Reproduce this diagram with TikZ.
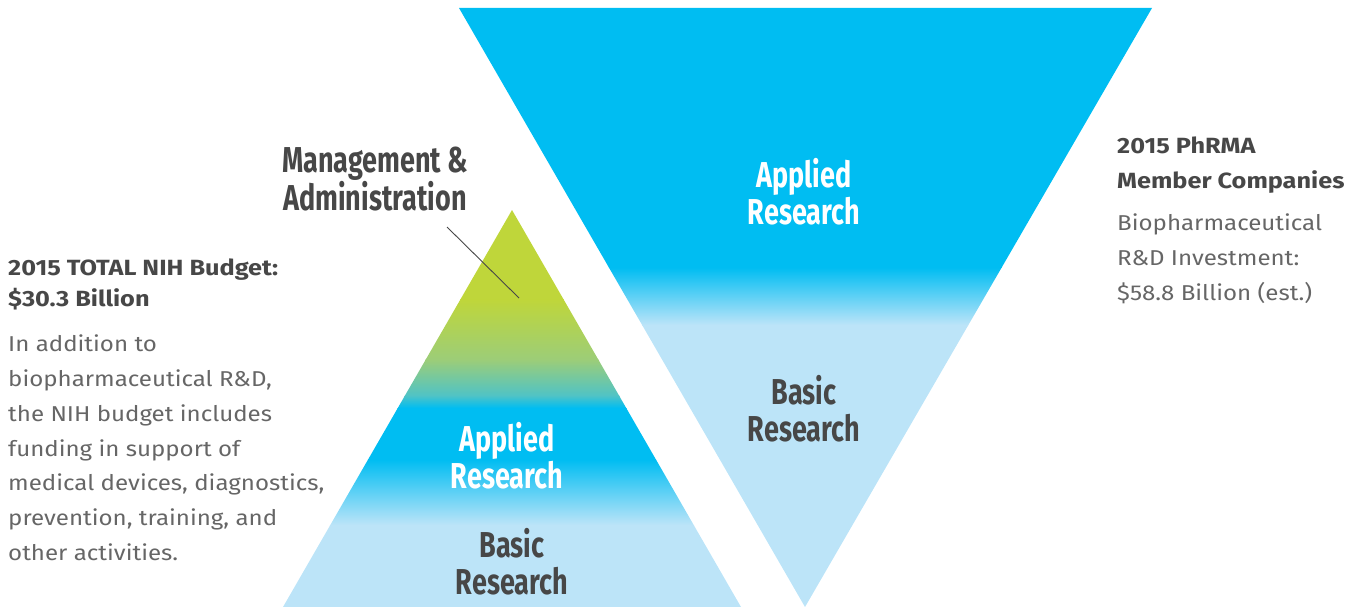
\documentclass[tikz,border=0pt]{standalone}
\usepackage{fontspec}
\setmainfont{Fira Sans}
\newfontfamily\condbold[FakeStretch=0.75]{Fira Sans}
\newfontfamily\headfont[FakeStretch=1.15]{Fira Sans}
\newfontfamily\lightfont[FakeStretch=1.12]{Fira Sans}
\definecolor{cyanb}{HTML}{00BDF2}
\definecolor{lightb}{HTML}{BCE4F8}
\definecolor{greenm}{HTML}{BFD63A}
\definecolor{midg}{HTML}{9CCD78}
\definecolor{tealc}{HTML}{4FC3C6}
\definecolor{darkt}{HTML}{474747}
\definecolor{bodyt}{HTML}{666666}
\begin{document}
\begin{tikzpicture}[x=1pt,y=-1pt,
  biglab/.style={align=center,inner sep=0pt,font=\condbold\bfseries\fontsize{36}{37}\selectfont},
  headtxt/.style={anchor=north west,align=left,inner sep=0pt,text=darkt,font=\headfont\bfseries\fontsize{22}{31}\selectfont},
  bodytxt/.style={anchor=north west,align=left,inner sep=0pt,text=bodyt,font=\lightfont\fontsize{21.5}{34.7}\selectfont},
  leader/.style={draw=darkt,line width=0.9pt}]
\useasboundingbox (0,0) rectangle (1356,607);
% inverted triangle (PhRMA)
\coordinate (RTL) at (459,8);
\coordinate (RTR) at (1152,8);
\coordinate (RB) at (805,607);
\begin{scope}
\clip (RTL) -- (RTR) -- (RB) -- cycle;
\fill[cyanb] (450,0) rectangle (1160,268);
\shade[top color=cyanb,bottom color=lightb] (450,267.5) rectangle (1160,325);
\fill[lightb] (450,324.5) rectangle (1160,610);
\end{scope}
% upright triangle (NIH)
\coordinate (LT) at (512,210);
\coordinate (LBR) at (741,607);
\coordinate (LBL) at (283,607);
\begin{scope}
\clip (LT) -- (LBR) -- (LBL) -- cycle;
\fill[greenm] (280,205) rectangle (745,300);
\shade[top color=greenm,bottom color=midg] (280,299.5) rectangle (745,360);
\shade[top color=midg,bottom color=tealc] (280,359.5) rectangle (745,396);
\shade[top color=tealc,bottom color=cyanb] (280,395.5) rectangle (745,408);
\fill[cyanb] (280,407.5) rectangle (745,460);
\shade[top color=cyanb,bottom color=lightb] (280,459.5) rectangle (745,525);
\fill[lightb] (280,524.5) rectangle (745,610);
\end{scope}
% labels inside shapes
\node[biglab,text=white] (rapp) at (804,192) {Applied\\Research};
\node[biglab,text=darkt] (rbas) at (804,409) {Basic\\Research};
\node[biglab,text=white] (lapp) at (507,456) {Applied\\Research};
\node[biglab,text=darkt] (lbas) at (512,562) {Basic\\Research};
\node[biglab,text=darkt] (mgmt) at (375,179) {Management \&\\Administration};
% leader
\coordinate (l1) at (447,227);
\coordinate (l2) at (519,298);
\draw[leader] (l1) -- (l2);
% side texts
\node[headtxt] (nihhead) at (8,259) {2015 TOTAL NIH Budget:\\\$30.3 Billion};
\node[bodytxt] (nihbody) at (8,335) {In addition to\\biopharmaceutical R\&D,\\the NIH budget includes\\funding in support of\\medical devices, diagnostics,\\prevention, training, and\\other activities.};
\node[headtxt,font=\headfont\bfseries\fontsize{22}{35}\selectfont] (phhead) at (1117,137) {2015 PhRMA\\Member Companies};
\node[bodytxt,font=\lightfont\fontsize{21.5}{35}\selectfont] (phbody) at (1117,214) {Biopharmaceutical\\R\&D Investment:\\\$58.8 Billion (est.)};
\end{tikzpicture}
\end{document}
